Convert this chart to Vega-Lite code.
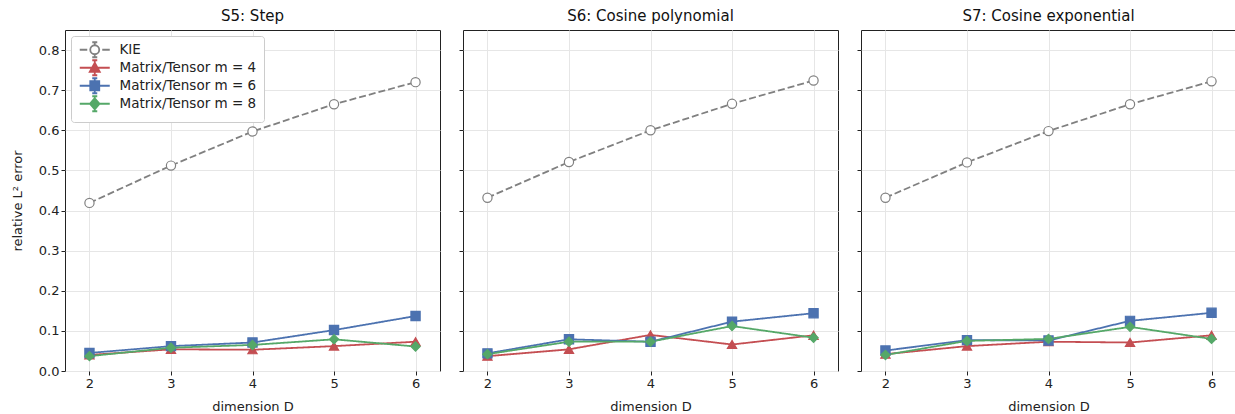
{
  "$schema": "https://vega.github.io/schema/vega-lite/v6.json",
  "padding": {"left": 10, "top": 8, "right": 0, "bottom": 0},
  "config": {
    "font": "DejaVu Sans",
    "view": {"stroke": "#222", "strokeWidth": 1},
    "axis": {"labelFont": "DejaVu Sans", "titleFont": "DejaVu Sans", "labelFontSize": 13, "titleFontSize": 13, "titleFontWeight": "normal", "labelColor": "#222", "titleColor": "#222", "gridColor": "#e6e6e6", "tickColor": "#222", "domain": false, "tickSize": 4},
    "legend": {"labelFont": "DejaVu Sans", "labelFontSize": 13.5, "labelColor": "#222"},
    "title": {"font": "DejaVu Sans", "fontSize": 15, "fontWeight": "normal", "color": "#111", "offset": 6}
  },
  "datasets": {"rows": [
    {"panel": "S5", "D": 2, "method": "KIE", "err": 0.419},
    {"panel": "S5", "D": 3, "method": "KIE", "err": 0.512},
    {"panel": "S5", "D": 4, "method": "KIE", "err": 0.597},
    {"panel": "S5", "D": 5, "method": "KIE", "err": 0.665},
    {"panel": "S5", "D": 6, "method": "KIE", "err": 0.720},
    {"panel": "S5", "D": 2, "method": "Matrix/Tensor m = 4", "err": 0.040},
    {"panel": "S5", "D": 3, "method": "Matrix/Tensor m = 4", "err": 0.054},
    {"panel": "S5", "D": 4, "method": "Matrix/Tensor m = 4", "err": 0.053},
    {"panel": "S5", "D": 5, "method": "Matrix/Tensor m = 4", "err": 0.062},
    {"panel": "S5", "D": 6, "method": "Matrix/Tensor m = 4", "err": 0.073},
    {"panel": "S5", "D": 2, "method": "Matrix/Tensor m = 6", "err": 0.045},
    {"panel": "S5", "D": 3, "method": "Matrix/Tensor m = 6", "err": 0.062},
    {"panel": "S5", "D": 4, "method": "Matrix/Tensor m = 6", "err": 0.071},
    {"panel": "S5", "D": 5, "method": "Matrix/Tensor m = 6", "err": 0.102},
    {"panel": "S5", "D": 6, "method": "Matrix/Tensor m = 6", "err": 0.137},
    {"panel": "S5", "D": 2, "method": "Matrix/Tensor m = 8", "err": 0.037},
    {"panel": "S5", "D": 3, "method": "Matrix/Tensor m = 8", "err": 0.058},
    {"panel": "S5", "D": 4, "method": "Matrix/Tensor m = 8", "err": 0.065},
    {"panel": "S5", "D": 5, "method": "Matrix/Tensor m = 8", "err": 0.079},
    {"panel": "S5", "D": 6, "method": "Matrix/Tensor m = 8", "err": 0.061},
    {"panel": "S6", "D": 2, "method": "KIE", "err": 0.432},
    {"panel": "S6", "D": 3, "method": "KIE", "err": 0.521},
    {"panel": "S6", "D": 4, "method": "KIE", "err": 0.600},
    {"panel": "S6", "D": 5, "method": "KIE", "err": 0.666},
    {"panel": "S6", "D": 6, "method": "KIE", "err": 0.724},
    {"panel": "S6", "D": 2, "method": "Matrix/Tensor m = 4", "err": 0.037},
    {"panel": "S6", "D": 3, "method": "Matrix/Tensor m = 4", "err": 0.054},
    {"panel": "S6", "D": 4, "method": "Matrix/Tensor m = 4", "err": 0.090},
    {"panel": "S6", "D": 5, "method": "Matrix/Tensor m = 4", "err": 0.066},
    {"panel": "S6", "D": 6, "method": "Matrix/Tensor m = 4", "err": 0.089},
    {"panel": "S6", "D": 2, "method": "Matrix/Tensor m = 6", "err": 0.044},
    {"panel": "S6", "D": 3, "method": "Matrix/Tensor m = 6", "err": 0.079},
    {"panel": "S6", "D": 4, "method": "Matrix/Tensor m = 6", "err": 0.073},
    {"panel": "S6", "D": 5, "method": "Matrix/Tensor m = 6", "err": 0.123},
    {"panel": "S6", "D": 6, "method": "Matrix/Tensor m = 6", "err": 0.144},
    {"panel": "S6", "D": 2, "method": "Matrix/Tensor m = 8", "err": 0.042},
    {"panel": "S6", "D": 3, "method": "Matrix/Tensor m = 8", "err": 0.073},
    {"panel": "S6", "D": 4, "method": "Matrix/Tensor m = 8", "err": 0.073},
    {"panel": "S6", "D": 5, "method": "Matrix/Tensor m = 8", "err": 0.112},
    {"panel": "S6", "D": 6, "method": "Matrix/Tensor m = 8", "err": 0.083},
    {"panel": "S7", "D": 2, "method": "KIE", "err": 0.432},
    {"panel": "S7", "D": 3, "method": "KIE", "err": 0.520},
    {"panel": "S7", "D": 4, "method": "KIE", "err": 0.598},
    {"panel": "S7", "D": 5, "method": "KIE", "err": 0.665},
    {"panel": "S7", "D": 6, "method": "KIE", "err": 0.722},
    {"panel": "S7", "D": 2, "method": "Matrix/Tensor m = 4", "err": 0.042},
    {"panel": "S7", "D": 3, "method": "Matrix/Tensor m = 4", "err": 0.062},
    {"panel": "S7", "D": 4, "method": "Matrix/Tensor m = 4", "err": 0.073},
    {"panel": "S7", "D": 5, "method": "Matrix/Tensor m = 4", "err": 0.071},
    {"panel": "S7", "D": 6, "method": "Matrix/Tensor m = 4", "err": 0.089},
    {"panel": "S7", "D": 2, "method": "Matrix/Tensor m = 6", "err": 0.051},
    {"panel": "S7", "D": 3, "method": "Matrix/Tensor m = 6", "err": 0.077},
    {"panel": "S7", "D": 4, "method": "Matrix/Tensor m = 6", "err": 0.076},
    {"panel": "S7", "D": 5, "method": "Matrix/Tensor m = 6", "err": 0.125},
    {"panel": "S7", "D": 6, "method": "Matrix/Tensor m = 6", "err": 0.145},
    {"panel": "S7", "D": 2, "method": "Matrix/Tensor m = 8", "err": 0.040},
    {"panel": "S7", "D": 3, "method": "Matrix/Tensor m = 8", "err": 0.075},
    {"panel": "S7", "D": 4, "method": "Matrix/Tensor m = 8", "err": 0.080},
    {"panel": "S7", "D": 5, "method": "Matrix/Tensor m = 8", "err": 0.110},
    {"panel": "S7", "D": 6, "method": "Matrix/Tensor m = 8", "err": 0.080}
  ]},
  "spacing": 17,
  "resolve": {"legend": {"stroke": "independent", "fill": "independent", "shape": "independent"}},
  "hconcat": [
    {
      "title": "S5: Step",
      "width": 375, "height": 341,
      "data": {"name": "rows"},
      "transform": [{"filter": "datum.panel === 'S5'"}],
      "encoding": {
        "x": {"field": "D", "type": "quantitative", "scale": {"domain": [1.7, 6.3], "nice": false, "zero": false}, "axis": {"values": [2, 3, 4, 5, 6], "format": "d", "title": "dimension D", "titlePadding": 10}},
        "y": {"field": "err", "type": "quantitative", "scale": {"domain": [0, 0.85], "nice": false}, "axis": {"values": [0, 0.1, 0.2, 0.3, 0.4, 0.5, 0.6, 0.7, 0.8], "format": ".1f", "title": "relative L² error", "titlePadding": 14}}
      },
      "resolve": {"scale": {"shape": "independent", "fill": "independent", "stroke": "independent"}},
      "layer": [
        {
          "mark": {"type": "line", "strokeWidth": 1.8},
          "encoding": {
            "color": {"field": "method", "type": "nominal", "scale": {"domain": ["KIE", "Matrix/Tensor m = 4", "Matrix/Tensor m = 6", "Matrix/Tensor m = 8"], "range": ["#808080", "#c44e52", "#4c72b0", "#55a868"]}, "legend": null},
            "strokeDash": {"field": "method", "type": "nominal", "scale": {"domain": ["KIE", "Matrix/Tensor m = 4", "Matrix/Tensor m = 6", "Matrix/Tensor m = 8"], "range": [[7, 3], [1, 0], [1, 0], [1, 0]]}, "legend": null}
          }
        },
        {
          "mark": {"type": "point", "filled": false, "size": 85, "strokeWidth": 1.2, "opacity": 1},
          "encoding": {
            "stroke": {"field": "method", "type": "nominal", "scale": {"domain": ["KIE", "Matrix/Tensor m = 4", "Matrix/Tensor m = 6", "Matrix/Tensor m = 8"], "range": ["#808080", "#c44e52", "#4c72b0", "#55a868"]}, "legend": null},
            "fill": {"field": "method", "type": "nominal", "scale": {"domain": ["KIE", "Matrix/Tensor m = 4", "Matrix/Tensor m = 6", "Matrix/Tensor m = 8"], "range": ["white", "#c44e52", "#4c72b0", "#55a868"]}, "legend": null},
            "shape": {"field": "method", "type": "nominal", "scale": {"domain": ["KIE", "Matrix/Tensor m = 4", "Matrix/Tensor m = 6", "Matrix/Tensor m = 8"], "range": ["circle", "triangle-up", "square", "diamond"]}, "legend": null}
          }
        },
        {
          "mark": {"type": "point", "filled": false, "size": 85, "strokeWidth": 1.8, "opacity": 0},
          "encoding": {
            "stroke": {"field": "method", "type": "nominal", "scale": {"domain": ["KIE", "Matrix/Tensor m = 4", "Matrix/Tensor m = 6", "Matrix/Tensor m = 8"], "range": ["#808080", "#c44e52", "#4c72b0", "#55a868"]},
              "legend": {"title": null, "orient": "top-left", "offset": 6, "fillColor": "white", "strokeColor": "#cccccc", "padding": 7, "cornerRadius": 3, "rowPadding": -5, "symbolSize": 100, "symbolStrokeWidth": 1.8, "symbolOffset": 10, "labelOffset": 18}},
            "shape": {"field": "method", "type": "nominal", "scale": {"domain": ["KIE", "Matrix/Tensor m = 4", "Matrix/Tensor m = 6", "Matrix/Tensor m = 8"], "range": [
              "M-3,0H-1.5M1.5,0H3M-0.9,0A0.9,0.9 0 1,0 0.9,0A0.9,0.9 0 1,0 -0.9,0M0,-0.9V-1.5M-0.5,-1.5H0.5M0,0.9V1.5M-0.5,1.5H0.5",
              "M-3,0H3M0,-1L1,0.8L-1,0.8ZM-0.22,-0.6H0.22M-0.44,-0.2H0.44M-0.67,0.2H0.67M-0.89,0.6H0.89M0,-1.5V1.5M-0.5,-1.5H0.5M-0.5,1.5H0.5",
              "M-3,0H3M-0.9,-0.9H0.9V0.9H-0.9ZM-0.9,-0.5H0.9M-0.9,-0.15H0.9M-0.9,0.2H0.9M-0.9,0.55H0.9M0,-1.5V1.5M-0.5,-1.5H0.5M-0.5,1.5H0.5",
              "M-3,0H3M0,-1.1L0.95,0L0,1.1L-0.95,0ZM-0.26,-0.8H0.26M-0.6,-0.4H0.6M-0.6,0.4H0.6M-0.26,0.8H0.26M0,-1.5V1.5M-0.5,-1.5H0.5M-0.5,1.5H0.5"
            ]}}
          }
        }
      ]
    },
    {
      "title": "S6: Cosine polynomial",
      "width": 375, "height": 341,
      "data": {"name": "rows"},
      "transform": [{"filter": "datum.panel === 'S6'"}],
      "encoding": {
        "x": {"field": "D", "type": "quantitative", "scale": {"domain": [1.7, 6.3], "nice": false, "zero": false}, "axis": {"values": [2, 3, 4, 5, 6], "format": "d", "title": "dimension D", "titlePadding": 10}},
        "y": {"field": "err", "type": "quantitative", "scale": {"domain": [0, 0.85], "nice": false}, "axis": {"values": [0, 0.1, 0.2, 0.3, 0.4, 0.5, 0.6, 0.7, 0.8], "labels": false, "title": null}}
      },
      "layer": [
        {
          "mark": {"type": "line", "strokeWidth": 1.8},
          "encoding": {
            "color": {"field": "method", "type": "nominal", "scale": {"domain": ["KIE", "Matrix/Tensor m = 4", "Matrix/Tensor m = 6", "Matrix/Tensor m = 8"], "range": ["#808080", "#c44e52", "#4c72b0", "#55a868"]}, "legend": null},
            "strokeDash": {"field": "method", "type": "nominal", "scale": {"domain": ["KIE", "Matrix/Tensor m = 4", "Matrix/Tensor m = 6", "Matrix/Tensor m = 8"], "range": [[7, 3], [1, 0], [1, 0], [1, 0]]}, "legend": null}
          }
        },
        {
          "mark": {"type": "point", "filled": false, "size": 85, "strokeWidth": 1.2, "opacity": 1},
          "encoding": {
            "stroke": {"field": "method", "type": "nominal", "scale": {"domain": ["KIE", "Matrix/Tensor m = 4", "Matrix/Tensor m = 6", "Matrix/Tensor m = 8"], "range": ["#808080", "#c44e52", "#4c72b0", "#55a868"]}, "legend": null},
            "fill": {"field": "method", "type": "nominal", "scale": {"domain": ["KIE", "Matrix/Tensor m = 4", "Matrix/Tensor m = 6", "Matrix/Tensor m = 8"], "range": ["white", "#c44e52", "#4c72b0", "#55a868"]}, "legend": null},
            "shape": {"field": "method", "type": "nominal", "scale": {"domain": ["KIE", "Matrix/Tensor m = 4", "Matrix/Tensor m = 6", "Matrix/Tensor m = 8"], "range": ["circle", "triangle-up", "square", "diamond"]}, "legend": null}
          }
        }
      ]
    },
    {
      "title": "S7: Cosine exponential",
      "width": 375, "height": 341,
      "data": {"name": "rows"},
      "transform": [{"filter": "datum.panel === 'S7'"}],
      "encoding": {
        "x": {"field": "D", "type": "quantitative", "scale": {"domain": [1.7, 6.3], "nice": false, "zero": false}, "axis": {"values": [2, 3, 4, 5, 6], "format": "d", "title": "dimension D", "titlePadding": 10}},
        "y": {"field": "err", "type": "quantitative", "scale": {"domain": [0, 0.85], "nice": false}, "axis": {"values": [0, 0.1, 0.2, 0.3, 0.4, 0.5, 0.6, 0.7, 0.8], "labels": false, "title": null}}
      },
      "layer": [
        {
          "mark": {"type": "line", "strokeWidth": 1.8},
          "encoding": {
            "color": {"field": "method", "type": "nominal", "scale": {"domain": ["KIE", "Matrix/Tensor m = 4", "Matrix/Tensor m = 6", "Matrix/Tensor m = 8"], "range": ["#808080", "#c44e52", "#4c72b0", "#55a868"]}, "legend": null},
            "strokeDash": {"field": "method", "type": "nominal", "scale": {"domain": ["KIE", "Matrix/Tensor m = 4", "Matrix/Tensor m = 6", "Matrix/Tensor m = 8"], "range": [[7, 3], [1, 0], [1, 0], [1, 0]]}, "legend": null}
          }
        },
        {
          "mark": {"type": "point", "filled": false, "size": 85, "strokeWidth": 1.2, "opacity": 1},
          "encoding": {
            "stroke": {"field": "method", "type": "nominal", "scale": {"domain": ["KIE", "Matrix/Tensor m = 4", "Matrix/Tensor m = 6", "Matrix/Tensor m = 8"], "range": ["#808080", "#c44e52", "#4c72b0", "#55a868"]}, "legend": null},
            "fill": {"field": "method", "type": "nominal", "scale": {"domain": ["KIE", "Matrix/Tensor m = 4", "Matrix/Tensor m = 6", "Matrix/Tensor m = 8"], "range": ["white", "#c44e52", "#4c72b0", "#55a868"]}, "legend": null},
            "shape": {"field": "method", "type": "nominal", "scale": {"domain": ["KIE", "Matrix/Tensor m = 4", "Matrix/Tensor m = 6", "Matrix/Tensor m = 8"], "range": ["circle", "triangle-up", "square", "diamond"]}, "legend": null}
          }
        }
      ]
    }
  ]
}
